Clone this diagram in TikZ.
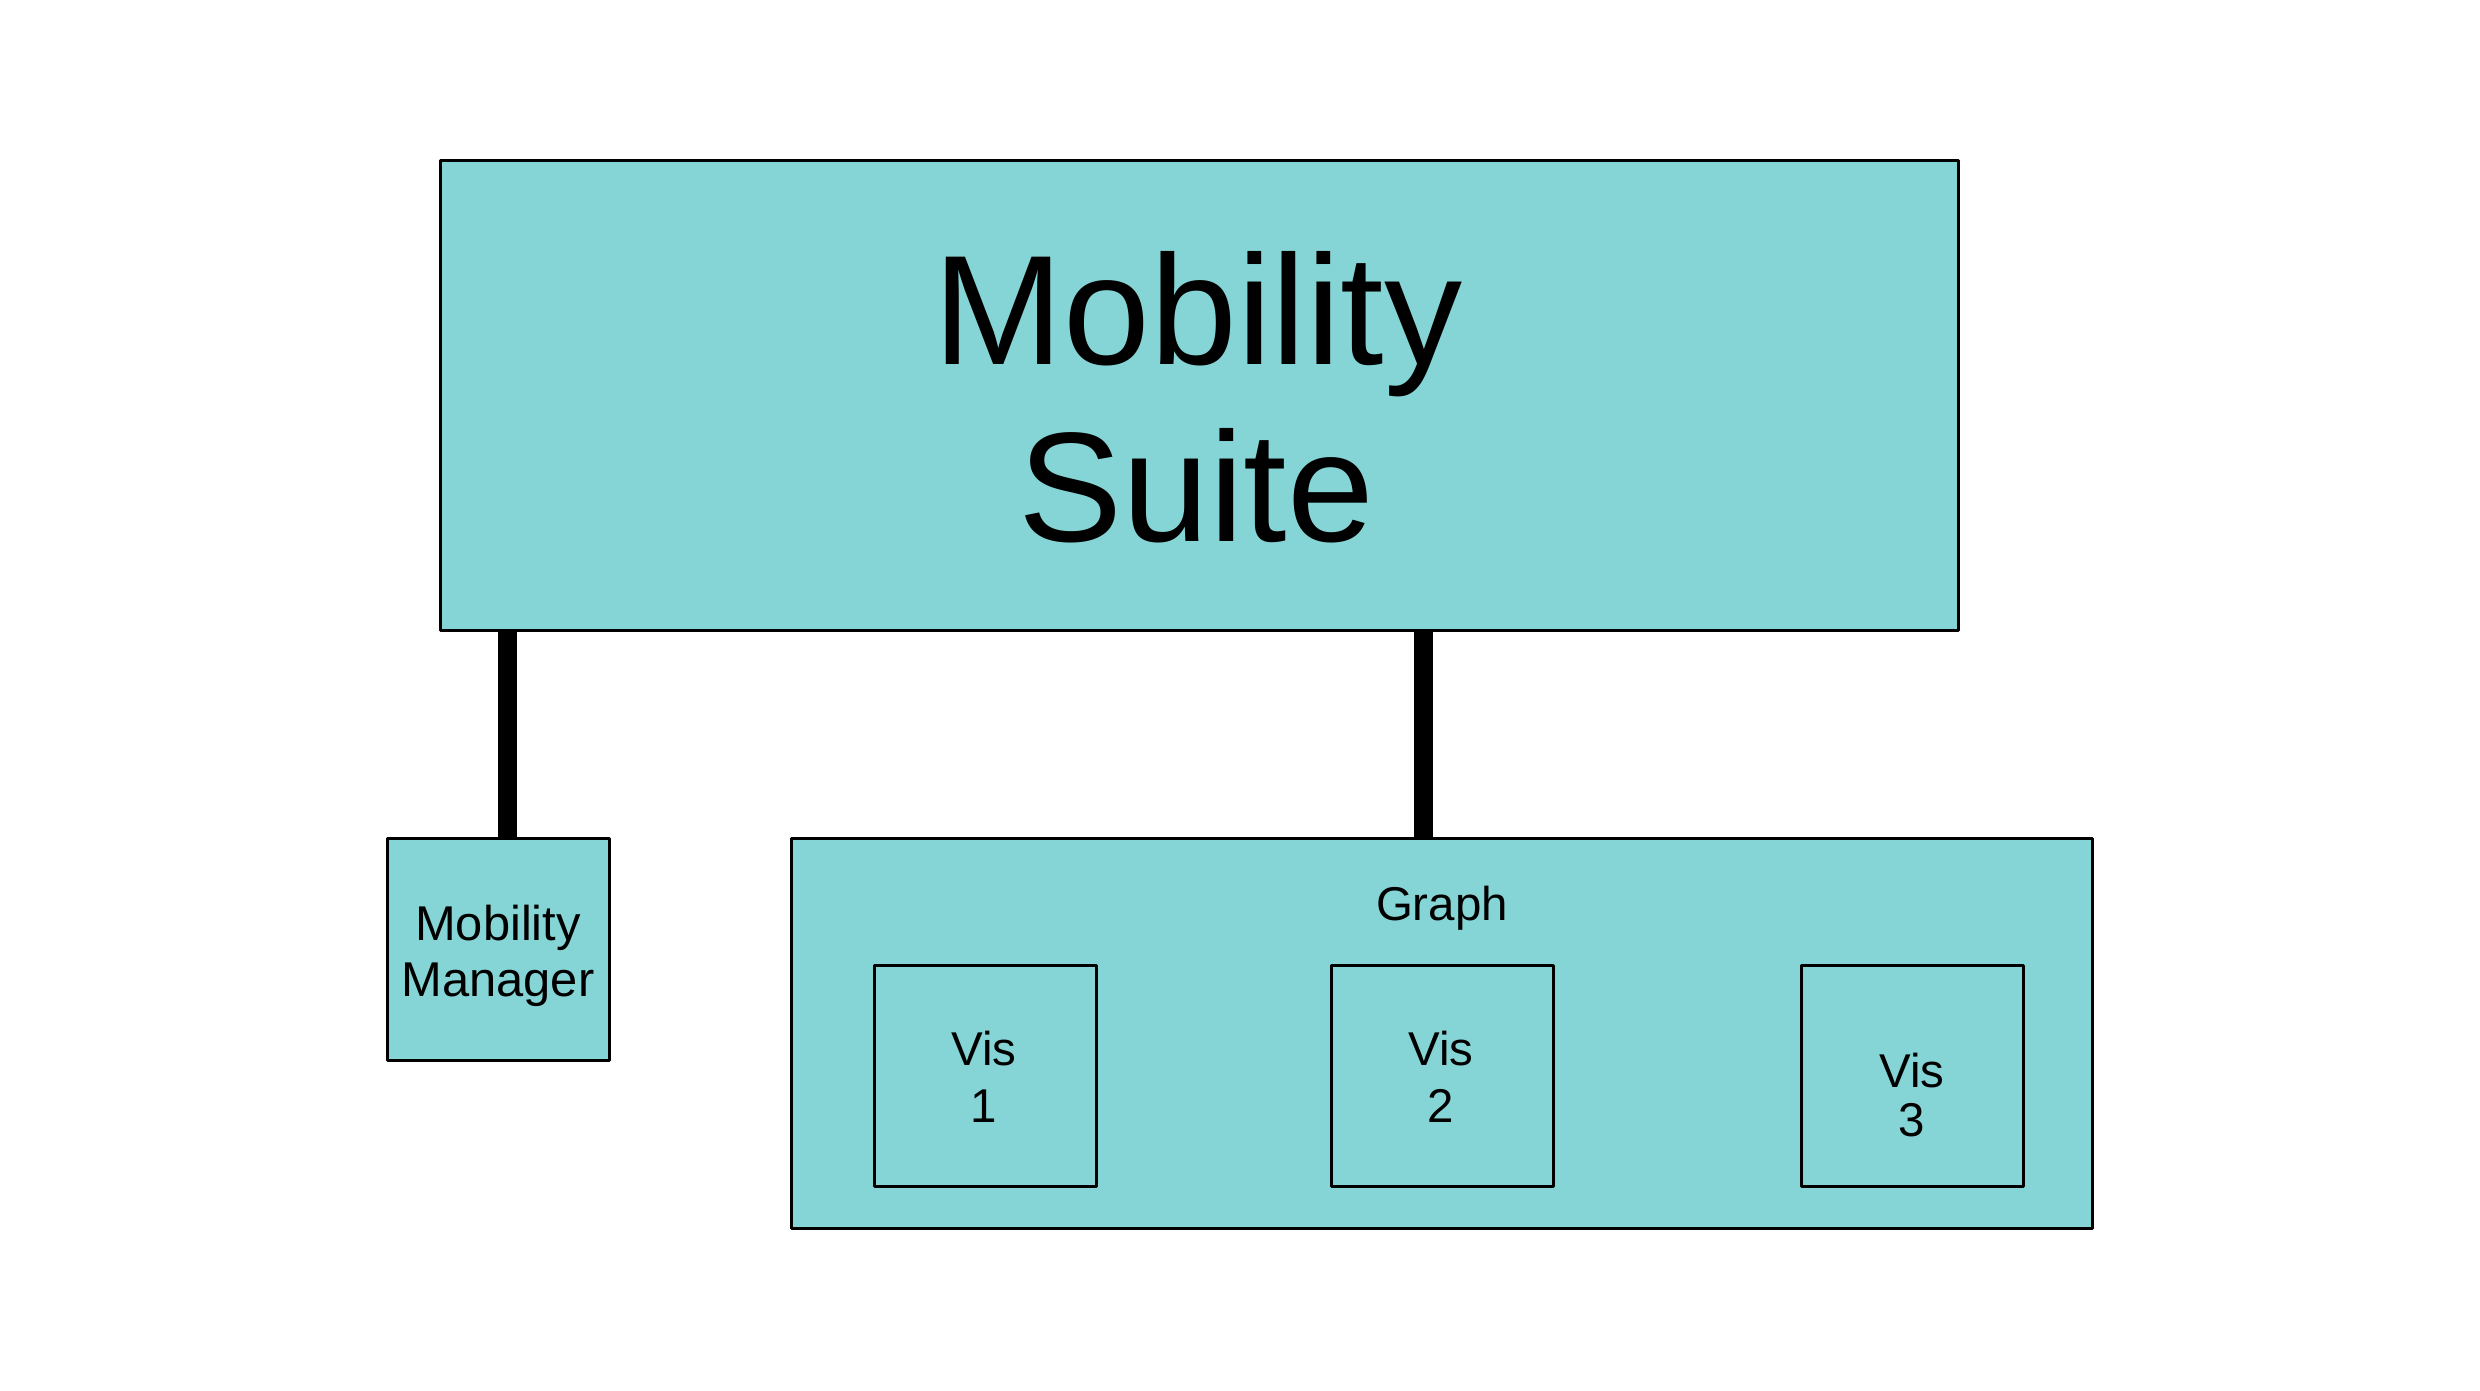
\documentclass[tikz,border=0pt]{standalone}
\usepackage{fontspec}
\setmainfont{Liberation Sans}
\definecolor{boxfill}{RGB}{134,213,214}
\begin{document}
\begin{tikzpicture}[x=0.1mm,y=-0.1mm,
  box/.style={draw=black,fill=boxfill,line width=0.3mm,line join=round,rectangle,inner sep=0pt,outer sep=0pt},
  conn/.style={draw=black,line width=1.9mm,line cap=butt},
  lbl/.style={anchor=base,inner sep=0pt,outer sep=0pt,text=black},
  big/.style={lbl,font=\fontsize{44.4pt}{50pt}\selectfont},
  small/.style={lbl,font=\fontsize{13.5pt}{16pt}\selectfont}]
\useasboundingbox[fill=white] (0,0) rectangle (2480,1391);
% boxes
\node[box,minimum width=151.8mm,minimum height=47mm] (suite) at (1199,396) {};
\node[box,minimum width=22.2mm,minimum height=22.2mm] (manager) at (498,949) {};
\node[box,minimum width=130.1mm,minimum height=39mm] (graph) at (1441.5,1033) {};
\node[box,minimum width=22.2mm,minimum height=22.1mm] (vis1) at (985,1075.5) {};
\node[box,minimum width=22.2mm,minimum height=22.1mm] (vis2) at (1442,1075.5) {};
\node[box,minimum width=22.2mm,minimum height=22.1mm] (vis3) at (1912,1076) {};
% connectors
\coordinate (c1) at (507.5,0);
\coordinate (c2) at (1423,0);
\draw[conn] (suite.south -| c1) -- (manager.north -| c1);
\draw[conn] (suite.south -| c2) -- (graph.north -| c2);
% labels
\node[big] (suiteA) at (1198,365) {Mobility};
\node[big] (suiteB) at (1196,542) {Suite};
\node[small,font=\fontsize{13.9pt}{16pt}\selectfont] (manA) at (498,940) {Mobility};
\node[small,font=\fontsize{13.9pt}{16pt}\selectfont] (manB) at (498,996) {Manager};
\node[small] (graphL) at (1442,920) {Graph};
\node[small] (v1a) at (984,1065) {Vis};
\node[small] (v1b) at (984,1122) {1};
\node[small] (v2a) at (1441,1065) {Vis};
\node[small] (v2b) at (1441,1122) {2};
\node[small] (v3a) at (1912,1087) {Vis};
\node[small] (v3b) at (1912,1136) {3};
\end{tikzpicture}
\end{document}
